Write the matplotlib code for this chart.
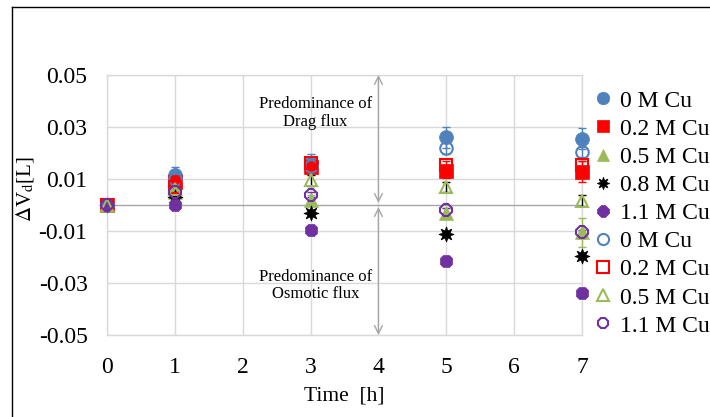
import matplotlib
matplotlib.use("Agg")
import matplotlib.pyplot as plt
from matplotlib.lines import Line2D

plt.rcParams['font.family'] = ['Liberation Serif', 'DejaVu Serif']
plt.rcParams['mathtext.fontset'] = 'stix'

# ---- data ----
time_h = [0, 1, 3, 5, 7]
series_labels = ["0 M Cu", "0.2 M Cu", "0.5 M Cu", "0.8 M Cu", "1.1 M Cu",
                 "0 M Cu", "0.2 M Cu", "0.5 M Cu", "1.1 M Cu"]
cu00 = [0, 0.0115, 0.0160, 0.0260, 0.0255]
cu00_err = [0, 0.0030, 0.0035, 0.0040, 0.0040]
cu02 = [0, 0.0090, 0.0145, 0.0130, 0.0128]
cu02_err = [0, 0.0020, 0.0020, 0.0025, 0.0040]
cu05 = [0, 0.0050, 0.0020, -0.0030, -0.0105]
cu05_err = [0, 0.0020, 0.0020, 0.0020, 0.0055]
cu08 = [0, 0.0030, -0.0030, -0.0110, -0.0195]
cu08_err = [0, 0.0010, 0.0010, 0.0010, 0.0010]
cu11 = [0, 0.0000, -0.0095, -0.0215, -0.0340]
cu11_err = [0, 0.0010, 0.0010, 0.0010, 0.0010]
cu00_b = [0, 0.0100, 0.0150, 0.0218, 0.0205]
cu00_b_err = [0, 0.0020, 0.0020, 0.0020, 0.0020]
cu02_b = [0, 0.0070, 0.0160, 0.0155, 0.0153]
cu02_b_err = [0, 0.0015, 0.0015, 0.0015, 0.0015]
cu05_b = [0, 0.0060, 0.0095, 0.0070, 0.0017]
cu05_b_err = [0, 0.0015, 0.0020, 0.0020, 0.0020]
cu11_b = [0, 0.0050, 0.0040, -0.0020, -0.0105]
cu11_b_err = [0, 0.0010, 0.0010, 0.0010, 0.0010]

y_ticks = [0.05, 0.03, 0.01, -0.01, -0.03, -0.05]
y_tick_labels = ["0.05", "0.03", "0.01", "-0.01", "-0.03", "-0.05"]
x_ticks = [0, 1, 2, 3, 4, 5, 6, 7]

BLUE = '#4F81BD'
RED = '#FF0000'
GREEN = '#9BBB59'
BLACK = '#000000'
PURPLE = '#7030A0'
GRID = '#D9D9D9'
ARROW = '#A6A6A6'

fig = plt.figure(figsize=(7.10, 4.17), dpi=100)
ax = fig.add_axes([107/710, 1-335/417, (582-107)/710, (335-75)/417])

star8 = (8, 1, 0)
series = [
    (cu00, cu00_err, 'o', BLUE, BLUE, BLUE, True),
    (cu02, cu02_err, 's', RED, RED, RED, True),
    (cu05, cu05_err, '^', GREEN, GREEN, GREEN, True),
    (cu08, cu08_err, star8, BLACK, BLACK, BLACK, True),
    (cu11, cu11_err, '8', PURPLE, PURPLE, PURPLE, True),
    (cu00_b, cu00_b_err, 'o', BLUE, BLUE, BLUE, False),
    (cu02_b, cu02_b_err, 's', RED, RED, RED, False),
    (cu05_b, cu05_b_err, '^', GREEN, GREEN, BLACK, False),
    (cu11_b, cu11_b_err, '8', PURPLE, PURPLE, PURPLE, False),
]

handles = []
for (vals, errs, mk, fc, ec, errc, filled), lab in zip(series, series_labels):
    eb = ax.errorbar(time_h, vals, yerr=errs, fmt='none', ecolor=errc,
                     elinewidth=1.0, capsize=3, capthick=1.0, zorder=3)
    for art in eb.get_children():
        art.set_clip_on(False)
    ms = 10 if mk != star8 else 11
    if filled:
        ax.plot(time_h, vals, linestyle='none', marker=mk, markersize=ms,
                markerfacecolor=fc, markeredgecolor=ec, markeredgewidth=0.5,
                zorder=4, clip_on=False)
        h = Line2D([], [], linestyle='none', marker=mk, markersize=9,
                   markerfacecolor=fc, markeredgecolor=ec, markeredgewidth=0.5)
    else:
        ax.plot(time_h, vals, linestyle='none', marker=mk, markersize=ms - 1,
                markerfacecolor='none', markeredgecolor=ec, markeredgewidth=1.5,
                zorder=5, clip_on=False)
        h = Line2D([], [], linestyle='none', marker=mk, markersize=8,
                   markerfacecolor='none', markeredgecolor=ec, markeredgewidth=1.5)
    handles.append(h)

ax.set_xlim(0, 7)
ax.set_ylim(-0.05, 0.05)
ax.set_xticks(x_ticks)
ax.set_yticks(y_ticks)
ax.set_yticklabels(y_tick_labels)
ax.grid(True, color=GRID, linewidth=1.0, zorder=0)
ax.set_axisbelow(True)
ax.axhline(0, color=ARROW, linewidth=1.0, zorder=1)
for s in ax.spines.values():
    s.set_color(GRID)
    s.set_linewidth(1.0)
ax.tick_params(axis='y', length=0, labelsize=17, pad=14)
ax.tick_params(axis='x', length=0, labelsize=17, pad=16)

ax.set_xlabel('Time  [h]', fontsize=15.5, labelpad=6)
ax.set_ylabel(r'$\Delta$V$_{\mathrm{d}}$[L]', fontsize=15, labelpad=2)
ax.yaxis.set_label_coords(-0.15, 0.56)

# arrows
ax.annotate('', xy=(4, 0.05), xytext=(4, 0.0008),
            arrowprops=dict(arrowstyle='<->', color=ARROW, lw=1.0,
                            shrinkA=0, shrinkB=0, mutation_scale=14))
ax.annotate('', xy=(4, -0.05), xytext=(4, -0.0008),
            arrowprops=dict(arrowstyle='<->', color=ARROW, lw=1.0,
                            shrinkA=0, shrinkB=0, mutation_scale=14))
ax.text(3.07, 0.0355, 'Predominance of\nDrag flux', ha='center', va='center',
        fontsize=12, linespacing=1.15)
ax.text(3.07, -0.031, 'Predominance of\nOsmotic flux', ha='center', va='center',
        fontsize=12, linespacing=1.15)

leg = fig.legend(handles, series_labels, loc='upper left',
                 bbox_to_anchor=(594/710, 1-90/417), frameon=False,
                 fontsize=17, handlelength=0.8, handletextpad=0.3,
                 labelspacing=0.28, borderaxespad=0, borderpad=0)

# outer border (top and left)
fig.add_artist(Line2D([12/710, 12/710], [0, 1-7/417], color='black', lw=1.0,
                      transform=fig.transFigure))
fig.add_artist(Line2D([12/710, 1], [1-7/417, 1-7/417], color='black', lw=1.0,
                      transform=fig.transFigure))

fig.savefig('out.png', dpi=100)
